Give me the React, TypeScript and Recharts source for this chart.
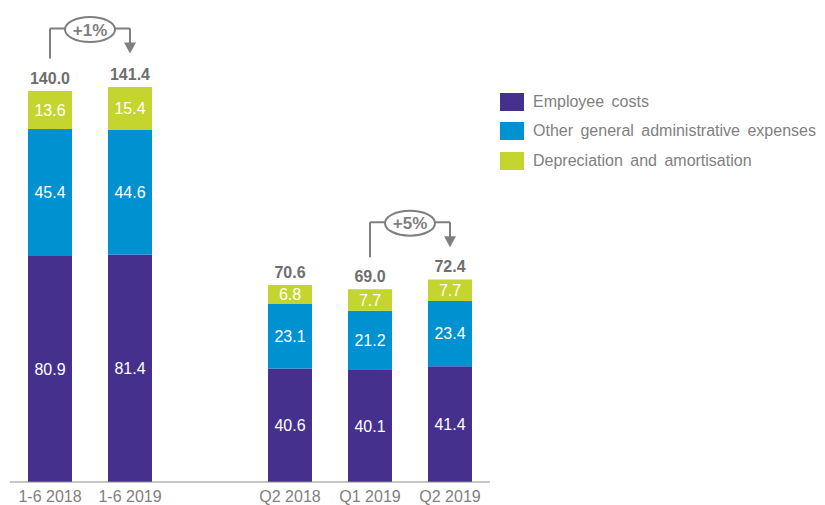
import React from "react";
import { BarChart, Bar, XAxis, YAxis, LabelList, Legend, ReferenceLine } from "recharts";

const categories = ["1-6 2018", "1-6 2019", "", "Q2 2018", "Q1 2019", "Q2 2019"];
const employeeCosts = [80.9, 81.4, null, 40.6, 40.1, 41.4];
const otherAdmin = [45.4, 44.6, null, 23.1, 21.2, 23.4];
const depreciation = [13.6, 15.4, null, 6.8, 7.7, 7.7];
const totals = [140.0, 141.4, null, 70.6, 69.0, 72.4];

const seriesNames = ["Employee costs", "Other general administrative expenses", "Depreciation and amortisation"];
const seriesColors = ["#46308E", "#0091D0", "#C3D52E"];

const changeLabels = ["+1%", "+5%"];
const changeFrom = ["1-6 2018", "Q1 2019"];
const changeTo = ["1-6 2019", "Q2 2019"];
const bracketStart = [151.6, 80.4];
const bracketTop = [162.3, 93.0];
const arrowEnd = [153.4, 84.0];

const data = categories.map((c, i) => ({
  name: c,
  employee: employeeCosts[i],
  other: otherAdmin[i],
  dep: depreciation[i],
  total: totals[i],
}));

const FONT = "'Liberation Sans', Arial, sans-serif";
const GRAY = "#7F7F7F";

const fmt = (v: any) => (v === null || v === undefined ? "" : Number(v).toFixed(1));

const renderLegend = (props: any) => {
  const payload = props.payload || [];
  const ordered = seriesNames
    .map((n) => payload.find((p: any) => p.value === n))
    .filter(Boolean);
  return (
    <div style={{ fontFamily: FONT }}>
      {ordered.map((p: any, i: number) => (
        <div key={i} style={{ display: "flex", alignItems: "center", height: 29.5 }}>
          <div style={{ width: 24, height: 18, background: p.color, marginRight: 9 }} />
          <span style={{ color: GRAY, fontSize: 16, wordSpacing: 3, whiteSpace: "nowrap" }}>{p.value}</span>
        </div>
      ))}
    </div>
  );
};

const makeTopShape = (label: string) => (props: any) => {
  const { x1, y1, x2, y2 } = props;
  const cx = (x1 + x2) / 2;
  const cy = (y1 + y2) / 2;
  return (
    <g>
      <line x1={x1} y1={y1} x2={x2} y2={y2} stroke={GRAY} strokeWidth={2} />
      <ellipse cx={cx} cy={cy + 1} rx={25} ry={12.5} fill="#fff" stroke={GRAY} strokeWidth={2} />
      <text x={cx} y={cy + 1} dy="0.36em" textAnchor="middle" fill={GRAY} fontSize={17} fontWeight="bold" fontFamily={FONT}>
        {label}
      </text>
    </g>
  );
};

const arrowShape = (props: any) => {
  const { x1, y1, x2, y2 } = props;
  const top = Math.min(y1, y2);
  const tip = Math.max(y1, y2);
  return (
    <g>
      <line x1={x1} y1={top} x2={x2} y2={tip - 10} stroke={GRAY} strokeWidth={2} />
      <polygon points={`${x2 - 6},${tip - 11} ${x2 + 6},${tip - 11} ${x2},${tip}`} fill={GRAY} />
    </g>
  );
};

const plainLine = (props: any) => {
  const { x1, y1, x2, y2 } = props;
  return <line x1={x1} y1={y1} x2={x2} y2={y2} stroke={GRAY} strokeWidth={2} />;
};

export default function App() {
  return (
    <div style={{ position: "absolute", left: 0, top: 0, width: 825, height: 505, background: "#fff" }}>
      <BarChart
        width={825}
        height={505}
        data={data}
        margin={{ top: 7, right: 335, bottom: 0, left: 10 }}
      >
        <XAxis
          dataKey="name"
          axisLine={{ stroke: "#8C8C8C", strokeWidth: 1 }}
          tickLine={false}
          height={23}
          tickMargin={3}
          tick={{ fill: GRAY, fontSize: 16, fontFamily: FONT }}
          interval={0}
        />
        <YAxis hide domain={[0, 170]} />
        <Bar dataKey="employee" name={seriesNames[0]} stackId="a" fill={seriesColors[0]} barSize={44} isAnimationActive={false}>
          <LabelList dataKey="employee" position="center" fill="#fff" fontSize={16} fontFamily={FONT} formatter={fmt} />
        </Bar>
        <Bar dataKey="other" name={seriesNames[1]} stackId="a" fill={seriesColors[1]} barSize={44} isAnimationActive={false}>
          <LabelList dataKey="other" position="center" fill="#fff" fontSize={16} fontFamily={FONT} formatter={fmt} />
        </Bar>
        <Bar dataKey="dep" name={seriesNames[2]} stackId="a" fill={seriesColors[2]} barSize={44} isAnimationActive={false}>
          <LabelList dataKey="dep" position="center" fill="#fff" fontSize={16} fontFamily={FONT} formatter={fmt} />
          <LabelList dataKey="total" position="top" offset={7} fill="#6E6E6E" fontSize={16} fontWeight="bold" fontFamily={FONT} formatter={fmt} />
        </Bar>
        {changeLabels.map((lab, i) => (
          <ReferenceLine
            key={`l${i}`}
            position="middle"
            segment={[{ x: changeFrom[i], y: bracketStart[i] }, { x: changeFrom[i], y: bracketTop[i] }]}
            shape={plainLine}
          />
        ))}
        {changeLabels.map((lab, i) => (
          <ReferenceLine
            key={`a${i}`}
            position="middle"
            segment={[{ x: changeTo[i], y: bracketTop[i] }, { x: changeTo[i], y: arrowEnd[i] }]}
            shape={arrowShape}
          />
        ))}
        {changeLabels.map((lab, i) => (
          <ReferenceLine
            key={`t${i}`}
            position="middle"
            segment={[{ x: changeFrom[i], y: bracketTop[i] }, { x: changeTo[i], y: bracketTop[i] }]}
            shape={makeTopShape(lab)}
          />
        ))}
        <Legend
          layout="horizontal"
          align="center"
          verticalAlign="middle"
          content={renderLegend}
          wrapperStyle={{ left: 500, top: 87, width: 325, height: 90, bottom: "auto", right: "auto" }}
        />
      </BarChart>
    </div>
  );
}
